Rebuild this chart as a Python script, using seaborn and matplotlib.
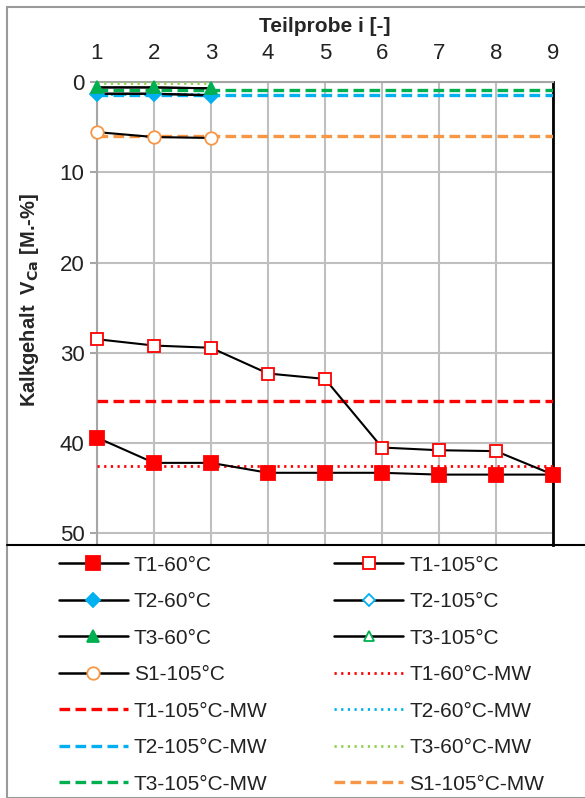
import matplotlib
matplotlib.use("Agg")
import matplotlib.pyplot as plt
import seaborn as sns
import pandas as pd
from matplotlib.lines import Line2D

sns.set_theme(style="white")
plt.rcParams['font.family'] = ['Liberation Sans', 'DejaVu Sans']

# ---- data ----
x_all = [1, 2, 3, 4, 5, 6, 7, 8, 9]
x_short = [1, 2, 3]
t1_60 = [39.4, 42.2, 42.2, 43.3, 43.3, 43.3, 43.5, 43.5, 43.5]
t1_105 = [28.5, 29.2, 29.45, 32.3, 32.9, 40.5, 40.8, 40.9, 43.5]
t2_60 = [1.3, 1.3, 1.5]
t2_105 = [1.3, 1.3, 1.45]
t3_60 = [0.6, 0.6, 0.7]
t3_105 = [0.6, 0.6, 0.7]
s1_105 = [5.55, 6.1, 6.2]
t1_60_mw = 42.6
t1_105_mw = 35.3
t2_60_mw = 1.35
t2_105_mw = 1.4
t3_60_mw = 0.1
t3_105_mw = 0.85
s1_105_mw = 5.95

x_ticks = [1, 2, 3, 4, 5, 6, 7, 8, 9]
y_ticks = [0, 10, 20, 30, 40, 50]

RED = "#FF0000"
BLUE = "#00B0F0"
GREEN = "#00B050"
LGREEN = "#92D050"
ORANGE = "#F79646"

W, H = 585, 798
fig = plt.figure(figsize=(W / 100, H / 100), dpi=100)
ax = fig.add_axes([97 / W, 1 - 545 / H, (553 - 97) / W, (545 - 82) / H])

handles = {}

def series(xs, ys, label, marker, mfc, mec, ms, z):
    df = pd.DataFrame({"x": xs, "y": ys})
    sns.lineplot(data=df, x="x", y="y", ax=ax, color="black", lw=1.5,
                 marker=marker, markersize=ms, markerfacecolor=mfc,
                 markeredgecolor=mec, markeredgewidth=1.3, zorder=z,
                 legend=False, errorbar=None)
    ax.lines[-1].set_clip_on(False)
    handles[label] = Line2D([], [], color="black", lw=1.8, marker=marker,
                            markersize=ms, markerfacecolor=mfc,
                            markeredgecolor=mec, markeredgewidth=1.3)

def mw(xs, val, label, color, style):
    df = pd.DataFrame({"x": xs, "y": [val] * len(xs)})
    if style == "dash":
        dashes = (3.2, 1.6)
        lw = 2.4
    else:
        dashes = (0.8, 1.6)
        lw = 2.0
    sns.lineplot(data=df, x="x", y="y", ax=ax, color=color, lw=lw,
                 dashes=False, legend=False, errorbar=None, zorder=3)
    ax.lines[-1].set_dashes(dashes)
    handles[label] = Line2D([], [], color=color, lw=lw, dashes=dashes)

series(x_all, t1_105, "T1-105°C", "s", "white", RED, 8.5, 4)
series(x_all, t1_60, "T1-60°C", "s", RED, RED, 10, 4.5)
series(x_short, t2_105, "T2-105°C", "D", "white", BLUE, 6, 4)
series(x_short, t2_60, "T2-60°C", "D", BLUE, BLUE, 7.5, 4.1)
series(x_short, t3_105, "T3-105°C", "^", "white", GREEN, 7.5, 4.2)
series(x_short, t3_60, "T3-60°C", "^", GREEN, GREEN, 9, 4.3)
series(x_short, s1_105, "S1-105°C", "o", "white", ORANGE, 9, 4)

mw(x_all, t1_60_mw, "T1-60°C-MW", RED, "dot")
mw(x_all, t1_105_mw, "T1-105°C-MW", RED, "dash")
mw(x_short, t2_60_mw, "T2-60°C-MW", BLUE, "dot")
mw(x_all, t2_105_mw, "T2-105°C-MW", BLUE, "dash")
mw(x_short, t3_60_mw, "T3-60°C-MW", LGREEN, "dot")
mw(x_all, t3_105_mw, "T3-105°C-MW", GREEN, "dash")
mw(x_all, s1_105_mw, "S1-105°C-MW", ORANGE, "dash")

ax.set_xlim(1, 9)
ax.set_ylim(51.3, 0)
ax.set_xticks(x_ticks)
ax.set_yticks(y_ticks)
ax.xaxis.tick_top()
ax.xaxis.set_label_position("top")
ax.grid(True, color="#BFBFBF", lw=1.5)
ax.set_axisbelow(True)
ax.tick_params(axis="x", length=0, pad=13, labelsize=16, colors="#222222")
ax.tick_params(axis="y", left=True, length=5, width=1.5, color="#A6A6A6",
               pad=4, labelsize=16, labelcolor="#222222")
for s in ["left", "top"]:
    ax.spines[s].set_color("#A6A6A6")
    ax.spines[s].set_linewidth(1.5)
ax.spines["right"].set_color("black")
ax.spines["right"].set_linewidth(2)
ax.spines["bottom"].set_visible(False)
ax.set_xlabel("Teilprobe i [-]", fontsize=15, fontweight="bold", labelpad=8)
ax.set_ylabel("")
fig.text(30 / W, 1 - 300 / H, r"Kalkgehalt  V$_{\mathbf{Ca}}$ [M.-%]",
         rotation=90, ha="center", va="center", fontsize=14.5,
         fontweight="bold")

# figure border and legend box top
fig.add_artist(plt.Rectangle((7 / W, 0), 1.2, 1 - 7 / H, transform=fig.transFigure,
                             fill=False, edgecolor="#9A9A9A", lw=1.5))
fig.add_artist(Line2D([7 / W, 1], [1 - 545 / H, 1 - 545 / H],
                      transform=fig.transFigure, color="black", lw=1.5))

order = ["T1-60°C", "T2-60°C", "T3-60°C", "S1-105°C", "T1-105°C-MW",
         "T2-105°C-MW", "T3-105°C-MW",
         "T1-105°C", "T2-105°C", "T3-105°C", "T1-60°C-MW", "T2-60°C-MW",
         "T3-60°C-MW", "S1-105°C-MW"]
leg = fig.legend([handles[k] for k in order], order, ncol=2,
                 loc="upper left", bbox_to_anchor=(40 / W, 1 - 537 / H),
                 frameon=False, fontsize=15, handlelength=3.3,
                 handletextpad=0.3, columnspacing=3.2, labelspacing=0.84)
for t in leg.get_texts():
    t.set_color("#222222")

fig.savefig("out.png", dpi=100)
